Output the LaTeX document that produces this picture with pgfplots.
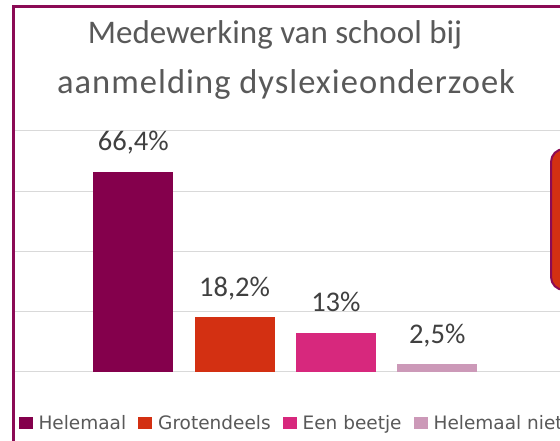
\documentclass[border=0pt]{standalone}
\usepackage{pgfplots}
\pgfplotsset{compat=1.18}
\usepackage{fontspec}
\setmainfont{Carlito}
\newfontfamily\legfont{DejaVu Sans}
\newfontfamily\titlewide[LetterSpace=3.0]{Carlito}
\definecolor{cA}{HTML}{84004C}
\definecolor{cB}{HTML}{D33012}
\definecolor{cC}{HTML}{D7287D}
\definecolor{cD}{HTML}{CC99B8}
\definecolor{frame}{HTML}{8B0A55}
\definecolor{titlegray}{HTML}{595959}
\definecolor{labgray}{HTML}{404040}
\definecolor{gridgray}{HTML}{D9D9D9}
\begin{document}
\begin{tikzpicture}
\useasboundingbox (0,0) rectangle (560bp,441bp);
\clip (0,0) rectangle (560bp,441bp);
\fill[white] (0,0) rectangle (560bp,441bp);
\begin{axis}[
  at={(13bp,69bp)}, anchor=south west,
  x=101.3bp, y=3.0125bp,
  xmin=-1.1876, xmax=5, ymin=0, ymax=80,
  axis line style={draw=none},
  xtick=\empty,
  ytick={0,20,40,60,80}, yticklabels={},
  major tick length=0pt,
  ymajorgrids, grid style={gridgray, line width=1bp},
  clip=false,
  ybar, bar width=80bp, bar shift=0pt,
  point meta=explicit symbolic,
  nodes near coords,
  every node near coord/.append style={anchor=base, yshift=21bp,
    font=\fontsize{28.5bp}{32bp}\selectfont, text=labgray},
  legend columns=4,
  legend style={at={(0.0085,-0.2116)}, anchor=west, draw=none, fill=none,
    inner sep=0pt, column sep=6bp,
    font=\legfont\fontsize{18.5bp}{21bp}\selectfont, text=titlegray,
    nodes={inner sep=0pt}},
  /tikz/every even column/.append style={column sep=12bp},
  legend image code/.code={\fill[#1] (0bp,-6bp) rectangle (14bp,6bp);},
]
\addplot[fill=cA, draw=none] coordinates {(0,66.4) [66{,}4\%]};
\addplot[fill=cB, draw=none] coordinates {(1,18.2) [18{,}2\%]};
\addplot[fill=cC, draw=none] coordinates {(2,13) [13\%]};
\addplot[fill=cD, draw=none] coordinates {(3,2.5) [2{,}5\%]};
\legend{Helemaal, Grotendeels, Een beetje, Helemaal niet}
\end{axis}
\draw[frame, line width=3bp] (13.5bp,-10bp) -- (13.5bp,434.5bp) -- (600bp,434.5bp);
\draw[frame, line width=2bp, fill=cB, rounded corners=13bp] (551bp,151bp) rectangle (640bp,292bp);
\node[anchor=base, text=titlegray, font=\fontsize{33bp}{38bp}\selectfont] at (275bp,397bp) {Medewerking van school bij};
\node[anchor=base, text=titlegray, font=\titlewide\fontsize{34.5bp}{38bp}\selectfont] at (286bp,347bp) {aanmelding dyslexieonderzoek};
\end{tikzpicture}
\end{document}
